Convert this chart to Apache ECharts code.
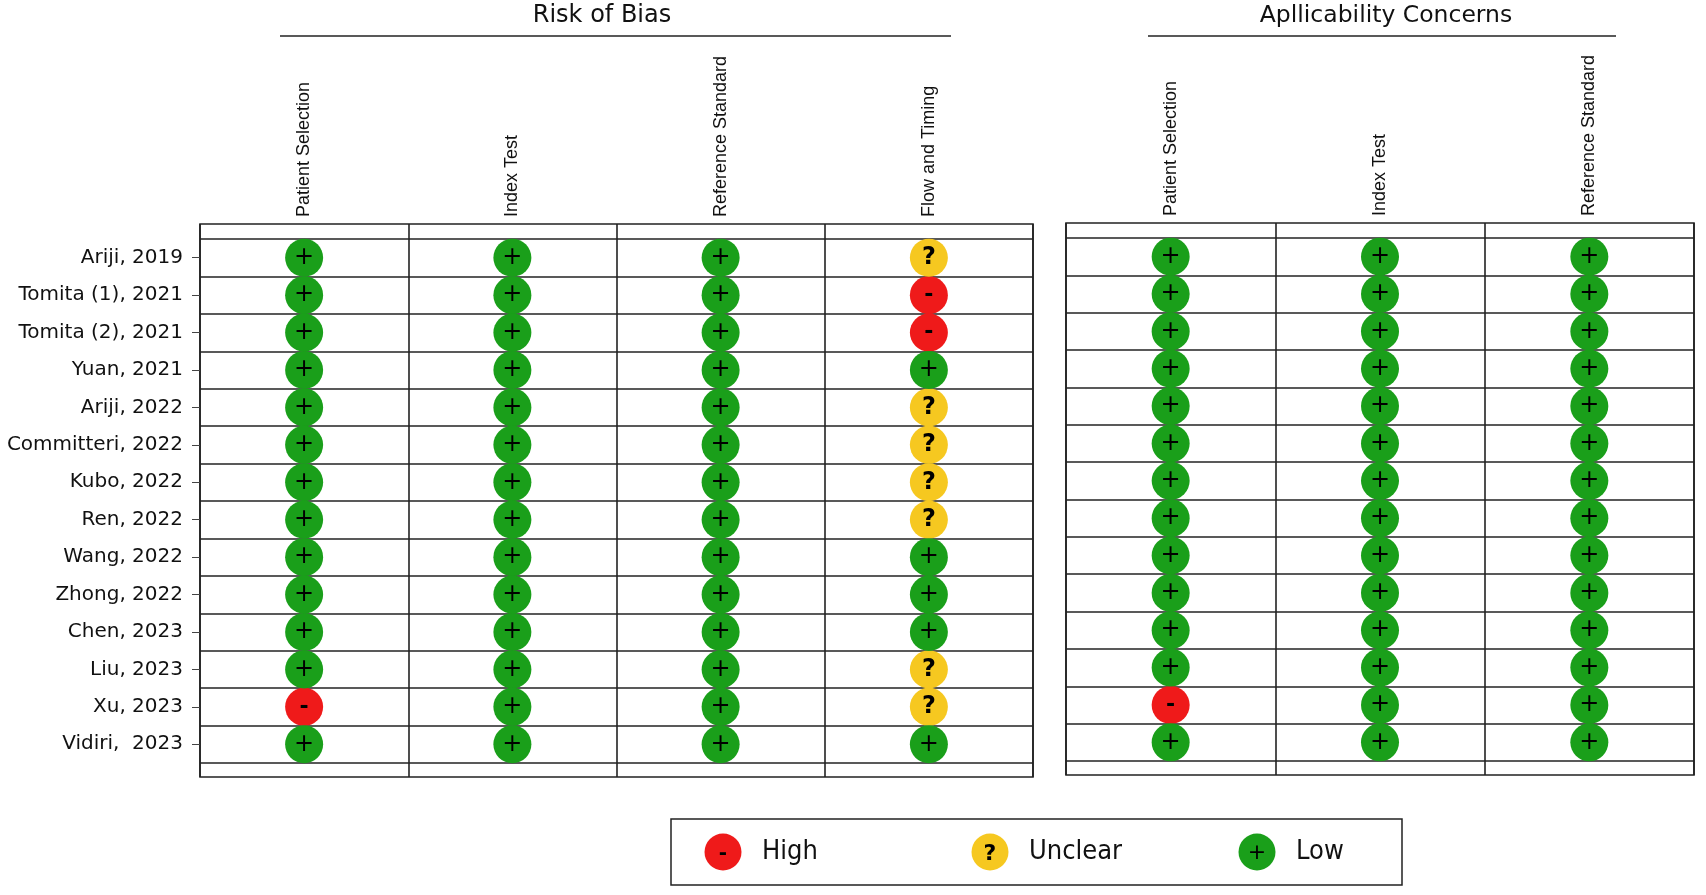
<!DOCTYPE html>
<html lang="en">
<head>
    <meta charset="UTF-8">
    <title>Risk of Bias and Applicability Concerns</title>
    <script src="https://cdn.jsdelivr.net/npm/echarts@6/dist/echarts.min.js"></script>
    <style>
        body { margin: 0; background: #fff; }
        #chart { width: 1706px; height: 895px; }
    </style>
</head>
<body>
<div id="chart"></div>
<script>
    // studies, top to bottom
    const studies = ['Ariji, 2019', 'Tomita (1), 2021', 'Tomita (2), 2021', 'Yuan, 2021', 'Ariji, 2022',
        'Committeri, 2022', 'Kubo, 2022', 'Ren, 2022', 'Wang, 2022', 'Zhong, 2022', 'Chen, 2023',
        'Liu, 2023', 'Xu, 2023', 'Vidiri,  2023'];

    const robDomains = ['Patient Selection', 'Index Test', 'Reference Standard', 'Flow and Timing'];
    const acDomains = ['Patient Selection', 'Index Test', 'Reference Standard'];

    // judgement per study (same order as studies): L = low, U = unclear, H = high
    const robPatientSelection  = ['L', 'L', 'L', 'L', 'L', 'L', 'L', 'L', 'L', 'L', 'L', 'L', 'H', 'L'];
    const robIndexTest         = ['L', 'L', 'L', 'L', 'L', 'L', 'L', 'L', 'L', 'L', 'L', 'L', 'L', 'L'];
    const robReferenceStandard = ['L', 'L', 'L', 'L', 'L', 'L', 'L', 'L', 'L', 'L', 'L', 'L', 'L', 'L'];
    const robFlowTiming        = ['U', 'H', 'H', 'L', 'U', 'U', 'U', 'U', 'L', 'L', 'L', 'U', 'U', 'L'];
    const acPatientSelection   = ['L', 'L', 'L', 'L', 'L', 'L', 'L', 'L', 'L', 'L', 'L', 'L', 'H', 'L'];
    const acIndexTest          = ['L', 'L', 'L', 'L', 'L', 'L', 'L', 'L', 'L', 'L', 'L', 'L', 'L', 'L'];
    const acReferenceStandard  = ['L', 'L', 'L', 'L', 'L', 'L', 'L', 'L', 'L', 'L', 'L', 'L', 'L', 'L'];

    const levelCodes = ['H', 'U', 'L'];
    const levelNames = ['High', 'Unclear', 'Low'];

    // look of each judgement
    const levelStyle = {
        H: { color: '#ef1a1a', glyph: '-', size: 22, weight: 'bold' },
        U: { color: '#f6c820', glyph: '?', size: 24, weight: 'bold' },
        L: { color: '#1a9f1a', glyph: '+', size: 24, weight: 'normal' }
    };

    const robColumns = [robPatientSelection, robIndexTest, robReferenceStandard, robFlowTiming];
    const acColumns = [acPatientSelection, acIndexTest, acReferenceStandard];

    const lineColor = '#222';

    function points(domains, columns, code) {
        const out = [];
        columns.forEach((col, d) => {
            col.forEach((j, s) => {
                if (j === code) out.push([domains[d], studies[s]]);
            });
        });
        return out;
    }

    function legendIcon(code) {
        const st = levelStyle[code];
        const svg = "<svg xmlns='http://www.w3.org/2000/svg' width='38' height='38'>" +
            "<circle cx='19' cy='19' r='18.5' fill='" + st.color + "'/>" +
            "<text x='19' y='" + (code === 'U' ? 27 : 26) + "' text-anchor='middle' font-family='DejaVu Sans' " +
            "font-size='" + (st.size - 2) + "' font-weight='" + st.weight + "' fill='#000'>" + st.glyph + "</text></svg>";
        return 'image://data:image/svg+xml;charset=utf-8,' + encodeURIComponent(svg);
    }

    // outer frame grid: vertical lines + column headers
    function frameX(gridIndex, domains) {
        return {
            gridIndex: gridIndex,
            type: 'category',
            data: domains,
            position: 'top',
            boundaryGap: true,
            axisLine: { show: false },
            axisTick: { show: false },
            splitLine: { show: true, interval: 0, lineStyle: { color: lineColor, width: 1.6 } },
            axisLabel: {
                interval: 0, rotate: 90, margin: 7,
                fontFamily: 'Liberation Sans', fontSize: 18, color: '#111'
            }
        };
    }

    function innerX(gridIndex, domains) {
        return { gridIndex: gridIndex, type: 'category', data: domains, boundaryGap: true, show: false };
    }

    function innerY(gridIndex, showLabels) {
        return {
            gridIndex: gridIndex,
            type: 'category',
            data: studies,
            inverse: true,
            boundaryGap: true,
            axisLine: { show: false },
            axisTick: { show: showLabels, alignWithLabel: true, length: 8, lineStyle: { color: '#444', width: 1 } },
            splitLine: { show: true, interval: 0, lineStyle: { color: lineColor, width: 1.6 } },
            axisLabel: {
                show: showLabels, interval: 0, margin: 17,
                fontFamily: 'DejaVu Sans', fontSize: 20, color: '#111'
            }
        };
    }

    const series = [];
    [[robDomains, robColumns, 1], [acDomains, acColumns, 3]].forEach(([domains, columns, axisIdx]) => {
        levelCodes.forEach((code, i) => {
            const st = levelStyle[code];
            series.push({
                type: 'scatter',
                name: levelNames[i],
                xAxisIndex: axisIdx,
                yAxisIndex: axisIdx,
                symbol: 'circle',
                symbolSize: 38,
                itemStyle: { color: st.color, opacity: 1 },
                label: {
                    show: true, position: 'inside', formatter: st.glyph,
                    color: '#000', fontFamily: 'DejaVu Sans', fontSize: st.size, fontWeight: st.weight
                },
                emphasis: { disabled: true },
                data: points(domains, columns, code)
            });
        });
    });

    const chart = echarts.init(document.getElementById('chart'));
    chart.setOption({
        animation: false,
        backgroundColor: '#fff',
        title: [
            { text: 'Risk of Bias', left: 602, top: 4, textAlign: 'center', padding: 0,
              textStyle: { fontFamily: 'DejaVu Sans', fontSize: 24, fontWeight: 'normal', color: '#111' } },
            { text: 'Apllicability Concerns', left: 1386, top: 4, textAlign: 'center', padding: 0,
              textStyle: { fontFamily: 'DejaVu Sans', fontSize: 23.5, fontWeight: 'normal', color: '#111' } }
        ],
        graphic: [
            { type: 'line', shape: { x1: 280, y1: 36, x2: 951, y2: 36 }, style: { stroke: lineColor, lineWidth: 1.6 } },
            { type: 'line', shape: { x1: 1148, y1: 36, x2: 1616, y2: 36 }, style: { stroke: lineColor, lineWidth: 1.6 } }
        ],
        legend: {
            data: levelNames.map((n, i) => ({ name: n, icon: legendIcon(levelCodes[i]) })),
            left: 671,
            top: 819,
            orient: 'horizontal',
            itemWidth: 38,
            itemHeight: 38,
            itemGap: 109,
            padding: [14, 6, 14, 33],
            borderColor: lineColor,
            borderWidth: 1.5,
            selectedMode: false,
            textStyle: {
                fontFamily: "'Liberation Sans Narrow', 'DejaVu Sans Condensed', 'Open Sans'",
                fontSize: 27, color: '#111', width: 100, lineHeight: 38, padding: [0, 0, 0, 15]
            }
        },
        grid: [
            { left: 200, top: 224, width: 833, height: 553, show: true, borderColor: lineColor, borderWidth: 1.6 },
            { left: 200, top: 239, width: 833, height: 524 },
            { left: 1066, top: 223, width: 628, height: 552, show: true, borderColor: lineColor, borderWidth: 1.6 },
            { left: 1066, top: 238, width: 628, height: 523 }
        ],
        xAxis: [
            frameX(0, robDomains),
            innerX(1, robDomains),
            frameX(2, acDomains),
            innerX(3, acDomains)
        ],
        yAxis: [
            { gridIndex: 0, type: 'value', min: 0, max: 1, show: false },
            innerY(1, true),
            { gridIndex: 2, type: 'value', min: 0, max: 1, show: false },
            innerY(3, false)
        ],
        series: series
    });
</script>
</body>
</html>
